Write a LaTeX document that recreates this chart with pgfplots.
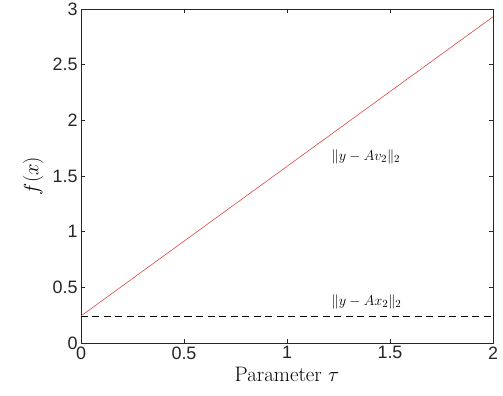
\documentclass[border=0pt]{standalone}
\usepackage{pgfplots}
\pgfplotsset{compat=1.18}
\usepackage{fontspec}
\setsansfont{Liberation Sans}
\definecolor{axgray}{RGB}{38,38,38}
\definecolor{myred}{RGB}{225,70,70}
\begin{document}
\begin{tikzpicture}
\begin{axis}[
  name=ax, at={(0,0)}, anchor=south west,
  scale only axis, width=412bp, height=334bp,
  xmin=0, xmax=2, ymin=0, ymax=3,
  xtick={0,0.5,1,1.5,2}, ytick={0,0.5,1,1.5,2,2.5,3},
  xticklabels={0,0.5,1,1.5,2}, yticklabels={0,0.5,1,1.5,2,2.5,3},
  tick align=inside, major tick length=4bp,
  axis line style={axgray, line width=0.6pt},
  every tick/.style={axgray, line width=0.6pt},
  tick label style={font=\sffamily\fontsize{18}{21}\selectfont, text=axgray},
  /pgf/number format/assume math mode=true,
  xlabel={Parameter $\tau$}, ylabel={$f(x)$},
  label style={font=\fontsize{21}{24}\selectfont},
  xlabel style={at={(axis description cs:0.5,0)}, anchor=north, yshift=-21bp},
  ylabel style={at={(axis description cs:0,0.5)}, anchor=south, yshift=34bp},
  clip=false,
]
\addplot[myred, line width=0.6pt] coordinates {(0,0.243) (2,2.93)};
\addplot[black, line width=0.6pt, dash pattern=on 7bp off 4.5bp] coordinates {(0,0.243) (2,0.243)};
\node[anchor=west, font=\fontsize{15}{17}\selectfont] at (axis cs:1.2,1.67) {$\|y-Av_2\|_2$};
\node[anchor=west, font=\fontsize{15}{17}\selectfont] at (axis cs:1.2,0.37) {$\|y-Ax_2\|_2$};
\end{axis}
\pgfresetboundingbox
\path[use as bounding box] (-81bp,-53bp) rectangle (422bp,343bp);
\end{tikzpicture}
\end{document}
